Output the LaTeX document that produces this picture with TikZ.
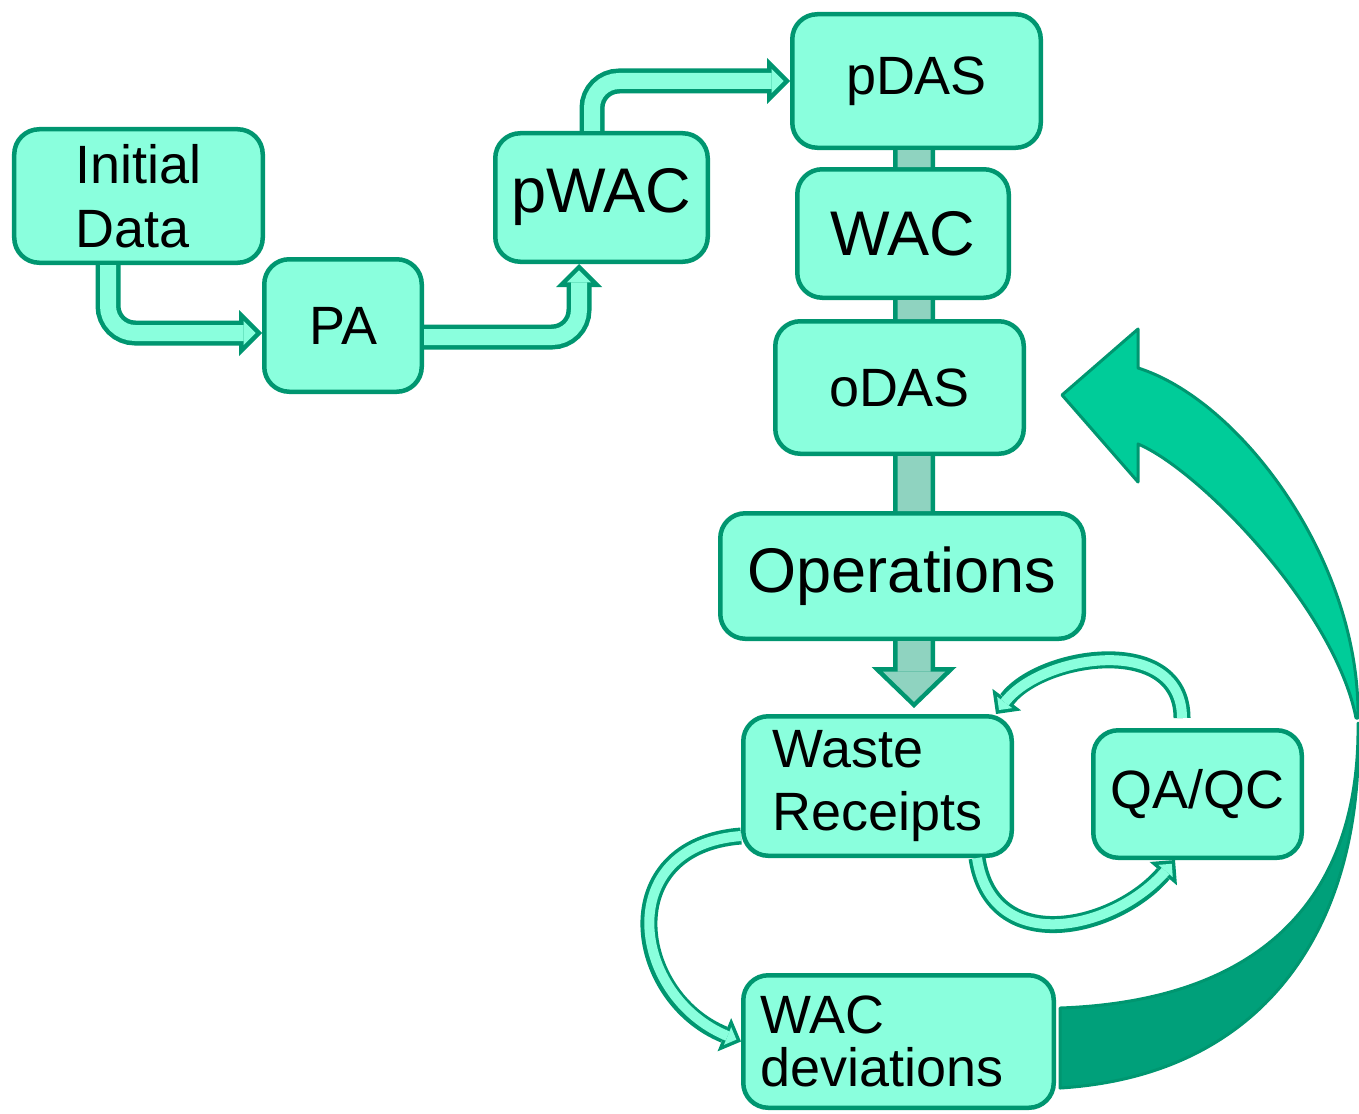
\documentclass[tikz,border=0pt]{standalone}
\usepackage{fontspec}
\setmainfont{Liberation Sans}
\usetikzlibrary{arrows.meta,positioning}
\definecolor{boxfill}{RGB}{138,255,221}
\definecolor{edge}{RGB}{0,150,112}
\definecolor{mute}{RGB}{143,211,192}
\definecolor{bigtop}{RGB}{0,204,153}
\definecolor{bigbot}{RGB}{0,160,122}

\begin{document}
\begin{tikzpicture}[x=0.2mm, y=-0.2mm]
	\tikzstyle{box} = [rectangle, rounded corners=5mm, draw=edge, fill=boxfill, line width=0.9mm, inner sep=0pt, align=left, font=\fontsize{30.7}{36.4}\selectfont]
	\tikzstyle{big} = [box, font=\fontsize{35.9}{42}\selectfont]
	\tikzstyle{pipe} = [draw=edge, line width=5mm, rounded corners=5.4mm, -{Triangle[width=9.2mm,length=4.6mm,line width=0pt]}]
	\tikzstyle{pipein} = [draw=boxfill, line width=3.2mm, rounded corners=5.4mm, shorten >=1.27mm, -{Triangle[width=4.84mm,length=2.42mm,line width=0pt]}]
	\tikzstyle{link} = [draw=edge, line width=0.9mm, double=mute, double distance=6.6mm]
	\tikzstyle{chute} = [draw=edge, line width=8.4mm, shorten >=1.2mm, -{Triangle[width=17mm,length=8.2mm,line width=0pt]}]
	\tikzstyle{chutein} = [draw=mute, line width=6.6mm, shorten >=2.45mm, -{Triangle[width=12.5mm,length=6.05mm,line width=0pt]}]
	\tikzstyle{curl} = [draw=edge, line width=3.4mm, -{Triangle[width=7.2mm,length=3.6mm,line width=0pt]}]
	\tikzstyle{curlin} = [draw=boxfill, line width=2mm, shorten >=1mm, -{Triangle[width=3.8mm,length=1.9mm,line width=0pt]}]
	\tikzstyle{ribbon} = [draw=edge, line width=0.6mm, line join=round]
	\useasboundingbox (0,0) rectangle (1359,1113);

  \node (init) [box, minimum width=49.7mm, minimum height=26.7mm] at (138.5,196) {Initial\\Data};
  \node (pa) [box, minimum width=31.5mm, minimum height=26.5mm] at (343,325.5) {PA};
  \node (pwac) [big, minimum width=42.5mm, minimum height=25.7mm] at (601.5,197.5) {pWAC};
  \node (pdas) [box, minimum width=49.7mm, minimum height=26.7mm] at (916.5,81) {pDAS};
  \node (wac) [big, minimum width=42.3mm, minimum height=25.7mm, below=3.4mm of pdas, xshift=-2.7mm] {WAC};
  \node (odas) [box, minimum width=49.7mm, minimum height=26.5mm, below=3.8mm of wac, xshift=-0.7mm] {oDAS};
  \node (ops) [big, minimum width=72.7mm, minimum height=25.1mm, below=11mm of odas, xshift=0.5mm] {Operations};
  \node (waste) [box, minimum width=53.7mm, minimum height=27.9mm, below=14.6mm of ops, xshift=-4.9mm, font=\fontsize{30.7}{35.9}\selectfont] {Waste\\Receipts};
  \node (qaqc) [box, minimum width=41.7mm, minimum height=25.5mm, right=15.4mm of waste, yshift=-1.6mm] {QA/QC};
  \node (wacdev) [box, minimum width=62.1mm, minimum height=26.5mm, below=23mm of waste, xshift=4.2mm, text width=55.3mm, inner xsep=3.4mm, font=\fontsize{30.7}{30.2}\selectfont] {WAC\\deviations};

  % bent arrows along the top
  \draw [pipe] ([xshift=-6.1mm]init.south) |- ([yshift=-1.5mm]pa.west);
  \draw [pipein] ([xshift=-6.1mm]init.south) |- ([yshift=-1.5mm]pa.west);
  \draw [pipe] ([yshift=-2.3mm]pa.east) -| ([xshift=-4.5mm]pwac.south);
  \draw [pipein] ([yshift=-2.3mm]pa.east) -| ([xshift=-4.5mm]pwac.south);
  \draw [pipe] ([xshift=-1.9mm]pwac.north) |- (pdas.west);
  \draw [pipein] ([xshift=-1.9mm]pwac.north) |- (pdas.west);

  % the column
  \draw [link] ([xshift=-0.5mm]pdas.south) -- ([xshift=2.2mm]wac.north);
  \draw [link] ([xshift=2.2mm]wac.south) -- ([xshift=2.9mm]odas.north);
  \draw [link] ([xshift=2.9mm]odas.south) -- ([xshift=2.4mm]ops.north);
  \draw [chute] ([xshift=2.4mm]ops.south) -- ([xshift=7.3mm]waste.north);
  \draw [chutein] ([xshift=2.4mm]ops.south) -- ([xshift=7.3mm]waste.north);

  % QA/QC loop and deviations
  \draw [curl] ([xshift=19.9mm]waste.south) .. controls +(15,100) and +(-60,70) .. ([xshift=-4.5mm]qaqc.south);
  \draw [curlin] ([xshift=19.9mm]waste.south) .. controls +(15,100) and +(-60,70) .. ([xshift=-4.5mm]qaqc.south);
  \draw [curl] ([xshift=-3.1mm,yshift=2mm]qaqc.north) .. controls +(0,-85) and +(45,-60) .. ([xshift=23.7mm]waste.north);
  \draw [curlin] ([xshift=-3.1mm,yshift=2mm]qaqc.north) .. controls +(0,-85) and +(45,-60) .. ([xshift=23.7mm]waste.north);
  \draw [curl] ([yshift=-10mm]waste.west) .. controls +(-130,10) and +(-110,-45) .. (wacdev.west);
  \draw [curlin] ([yshift=-10mm]waste.west) .. controls +(-130,10) and +(-110,-45) .. (wacdev.west);

  % big return arrow
  \coordinate (tip) at ([xshift=7.2mm,yshift=-1.5mm]odas.east);
  \coordinate (devtop) at ([xshift=0.8mm,yshift=6.7mm]wacdev.east);
  \coordinate (devbot) at ([xshift=0.8mm,yshift=-9.3mm]wacdev.east);
  \filldraw [ribbon, fill=bigbot] (devtop) -- (devbot)
    .. controls (1270,1075) and (1365,920) .. (1358,723)
    .. controls (1360,880) and (1280,1000) .. (devtop) -- cycle;
  \filldraw [ribbon, fill=bigtop] (1138,368) -- (1138,329) -- (tip) -- (1138,482) -- (1138,444)
    .. controls (1200,470) and (1335,610) .. (1356,718)
    -- (1358,718) .. controls (1360,560) and (1240,400) .. (1138,368) -- cycle;
\end{tikzpicture}
\end{document}
